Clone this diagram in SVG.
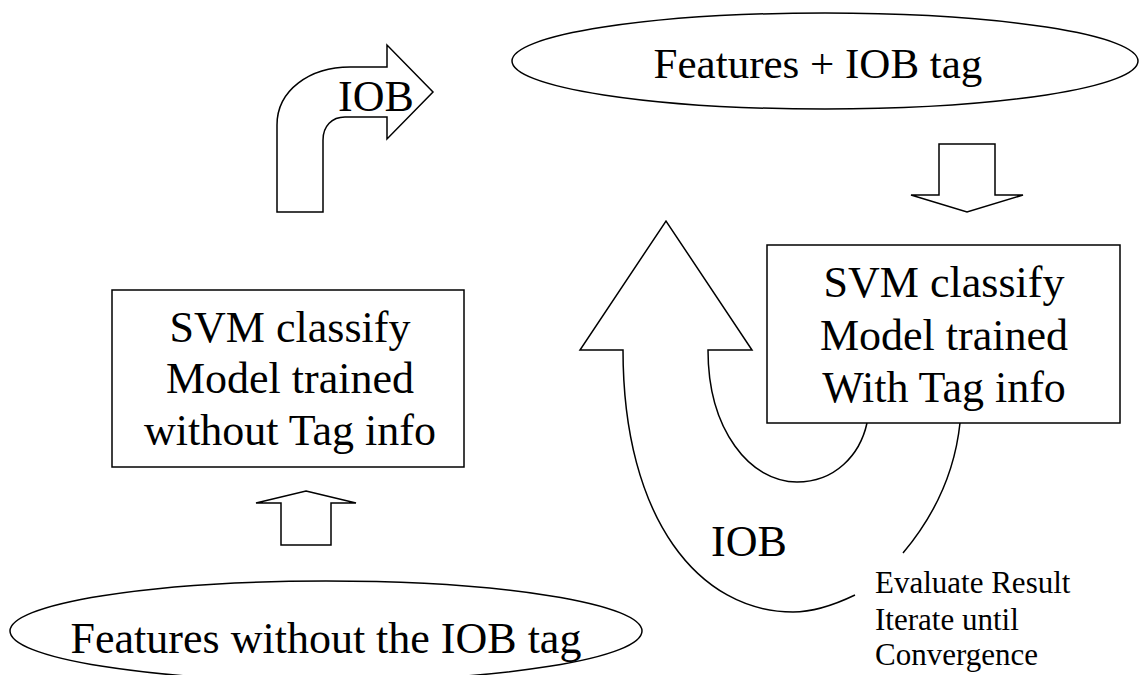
<svg xmlns="http://www.w3.org/2000/svg" width="1141" height="675" viewBox="0 0 1141 675">
<style>
.s{fill:#fff;stroke:#000;stroke-width:1.5}
.l{fill:none;stroke:#000;stroke-width:1.5}
.t{font-family:"Liberation Serif","Times New Roman",serif;font-size:44px;fill:#000;text-anchor:middle}
.sm{font-family:"Liberation Serif","Times New Roman",serif;font-size:31px;fill:#000}
</style>
<rect width="1141" height="675" fill="#fff"/>
<g id="connectors">
<path class="s" d="M277,212 L277,125 C277,90 310,67 350,67 L387,67 L387,45 L433,92 L387,139 L387,117 L345,117 C332,117 323,126 323,140 L323,212 Z"/>
<text class="t" x="376" y="111">IOB</text>
<path class="s" d="M939,144 L995,144 L995,195 L1023,195 L967,212 L911,195 L939,195 Z"/>
<path class="s" d="M306,491 L356,503 L331,503 L331,545 L281,545 L281,503 L256,503 Z"/>
<path class="s" d="M855,595 C830,607 812,612 793,612 C700,612 623,520 623,350 L580,350 L666,221 L752,350 L708,350 C708,430 750,482 797,482 C835,482 860,455 867,423"/>
<path class="l" d="M960,423 C955,470 935,515 903,553"/>
<text class="t" x="749" y="556">IOB</text>
</g>
<g id="top-ellipse">
<ellipse class="s" cx="825" cy="61" rx="313" ry="48"/>
<text class="t" x="818" y="78" style="font-size:43px">Features + IOB tag</text>
</g>
<g id="bottom-ellipse">
<ellipse class="s" cx="326" cy="631" rx="316" ry="50"/>
<text class="t" x="326" y="653">Features without the IOB tag</text>
</g>
<g id="box1">
<rect class="s" x="112" y="290" width="352" height="177"/>
<text class="t" x="290" y="342">SVM classify</text>
<text class="t" x="290" y="393">Model trained</text>
<text class="t" x="290" y="445">without Tag info</text>
</g>
<g id="box2">
<rect class="s" x="767" y="245" width="353" height="178"/>
<text class="t" x="944" y="297">SVM classify</text>
<text class="t" x="944" y="350">Model trained</text>
<text class="t" x="944" y="402">With Tag info</text>
</g>
<g id="note">
<text class="sm" x="875" y="593">Evaluate Result</text>
<text class="sm" x="875" y="630">Iterate until</text>
<text class="sm" x="875" y="665">Convergence</text>
</g>
</svg>
